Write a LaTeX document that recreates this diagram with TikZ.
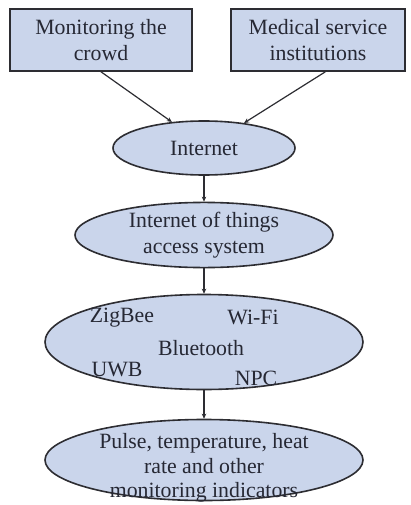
\documentclass[tikz,border=0pt]{standalone}
\usepackage{fontspec}
\setmainfont{Liberation Serif}
\usetikzlibrary{shapes.geometric,arrows.meta}
\definecolor{boxfill}{RGB}{202,213,235}
\definecolor{edge}{RGB}{45,45,50}
\definecolor{ink}{RGB}{38,40,52}
\begin{document}
\begin{tikzpicture}[x=1pt,y=-1pt,
  every node/.style={font=\fontsize{21.8}{26}\selectfont, text=ink},
  rbox/.style={draw=edge, line width=1.6pt, fill=boxfill, rectangle, inner sep=0pt, align=center},
  ell/.style={draw=edge, line width=1.6pt, fill=boxfill, ellipse, inner sep=0pt, align=center},
  lbl/.style={inner sep=0pt},
  conn/.style={draw=edge, line width=1.2pt, -{Stealth[length=5pt,width=4.5pt]}}]
\useasboundingbox (0,0) rectangle (410,505);
\fill[white] (0,0) rectangle (410,505);
\node[rbox, minimum width=182pt, minimum height=62pt] (b1) at (101,40) {Monitoring the\\crowd};
\node[rbox, minimum width=174pt, minimum height=62pt] (b2) at (318,40) {Medical service\\institutions};
\node[ell, minimum width=182pt, minimum height=54pt] (inet) at (204,148) {Internet};
\node[ell, minimum width=258pt, minimum height=60pt] (iot) at (204,235) {Internet of things\\access system};
\node[ell, minimum width=318pt, minimum height=95pt] (tech) at (204,342) {};
\node[lbl] (zig) at (122,318) {ZigBee};
\node[lbl] (wifi) at (253,317) {Wi-Fi};
\node[lbl] (bt) at (201,348) {Bluetooth};
\node[lbl] (uwb) at (117,370) {UWB};
\node[lbl] (npc) at (256,378) {NPC};
\node[ell, minimum width=318pt, minimum height=81pt] (pulse) at (204,460) {};
\node[lbl, align=center, font=\fontsize{21.8}{24.5}\selectfont] (ptext) at (204,468) {Pulse, temperature, heat\\rate and other\\monitoring indicators};
\draw[conn] (b1.south) -- (inet.141);
\draw[conn] (b2.-77) -- (inet.32);
\draw[conn] (inet.south) -- (iot.north);
\draw[conn] (iot.south) -- (tech.north);
\draw[conn] (tech.south) -- (pulse.north);
\end{tikzpicture}
\end{document}
